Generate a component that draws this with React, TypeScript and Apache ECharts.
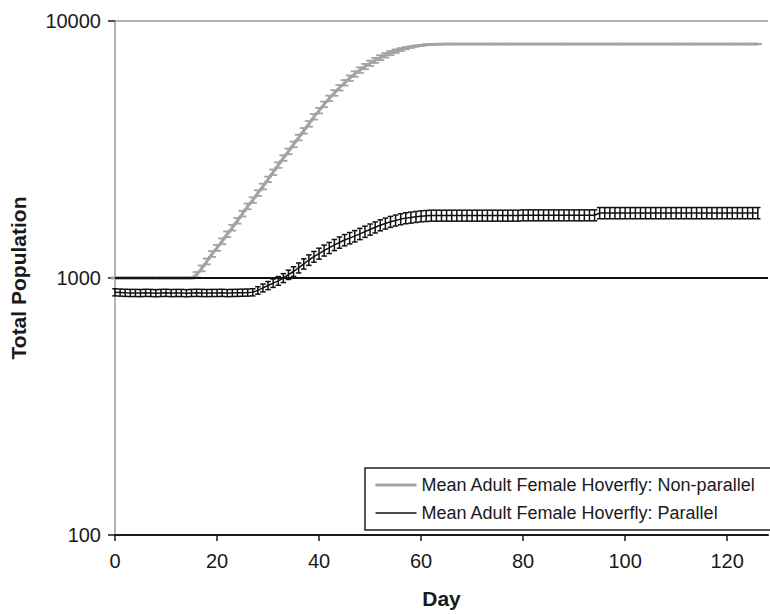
import React, { useEffect, useRef } from "react";
import * as echarts from "echarts";

// Days 0..126
const days: number[] = Array.from({ length: 127 }, (_, i) => i);

// Mean Adult Female Hoverfly: Non-parallel (grey)
const nonParallel: number[] = [
  1000, 1000, 1000, 1000, 1000, 1000, 1000, 1000, 1000, 1000,
  1000, 1000, 1000, 1000, 1000, 1000, 1030, 1090, 1160, 1240,
  1310, 1390, 1480, 1570, 1670, 1780, 1900, 2010, 2140, 2270,
  2420, 2580, 2750, 2930, 3110, 3310, 3520, 3740, 3980, 4240,
  4480, 4740, 5000, 5250, 5500, 5750, 5990, 6220, 6440, 6650,
  6850, 7030, 7200, 7360, 7500, 7630, 7740, 7840, 7920, 7990,
  8040, 8080, 8100, 8120, 8120, 8130, 8130, 8130, 8130, 8130,
  8130, 8130, 8130, 8130, 8130, 8130, 8130, 8130, 8130, 8130,
  8130, 8130, 8130, 8130, 8130, 8130, 8130, 8130, 8130, 8130,
  8130, 8130, 8130, 8130, 8130, 8130, 8130, 8130, 8130, 8130,
  8130, 8130, 8130, 8130, 8130, 8130, 8130, 8130, 8130, 8130,
  8130, 8130, 8130, 8130, 8130, 8130, 8130, 8130, 8130, 8130,
  8130, 8130, 8130, 8130, 8130, 8130, 8130,
];
const nonParallelErr: number[] = [
  5, 5, 5, 5, 5, 5, 5, 5, 5, 5,
  5, 5, 5, 5, 5, 5, 25, 28, 30, 32,
  34, 36, 38, 40, 42, 45, 48, 50, 54, 57,
  60, 64, 68, 73, 78, 83, 88, 94, 100, 106,
  112, 118, 124, 130, 136, 142, 148, 152, 156, 160,
  160, 160, 160, 150, 140, 120, 100, 80, 60, 40,
  30, 20, 15, 10, 8, 8, 8, 8, 8, 8,
  8, 8, 8, 8, 8, 8, 8, 8, 8, 8,
  8, 8, 8, 8, 8, 8, 8, 8, 8, 8,
  8, 8, 8, 8, 8, 8, 8, 8, 8, 8,
  8, 8, 8, 8, 8, 8, 8, 8, 8, 8,
  8, 8, 8, 8, 8, 8, 8, 8, 8, 8,
  8, 8, 8, 8, 8, 8, 8,
];

// Mean Adult Female Hoverfly: Parallel (black)
const parallel: number[] = [
  880, 878, 876, 875, 875, 874, 876, 875, 873, 875,
  876, 874, 875, 875, 873, 875, 876, 875, 874, 875,
  875, 876, 874, 875, 876, 877, 878, 880, 895, 915,
  935, 955, 975, 1000, 1030, 1060, 1095, 1135, 1175, 1210,
  1245, 1280, 1310, 1345, 1375, 1405, 1430, 1455, 1485, 1515,
  1545, 1575, 1605, 1630, 1655, 1675, 1695, 1710, 1720, 1730,
  1740, 1745, 1750, 1750, 1750, 1750, 1750, 1750, 1750, 1750,
  1750, 1750, 1750, 1750, 1750, 1750, 1750, 1750, 1750, 1750,
  1755, 1755, 1755, 1755, 1755, 1755, 1755, 1755, 1755, 1755,
  1755, 1755, 1755, 1755, 1755, 1790, 1790, 1790, 1790, 1790,
  1790, 1790, 1790, 1790, 1790, 1790, 1790, 1790, 1790, 1790,
  1790, 1790, 1790, 1790, 1790, 1790, 1790, 1790, 1790, 1790,
  1790, 1790, 1790, 1790, 1790, 1790, 1790,
];
const parallelErr: number[] = [
  28, 28, 28, 28, 28, 28, 28, 28, 28, 28,
  28, 28, 28, 28, 28, 28, 28, 28, 28, 28,
  28, 28, 28, 28, 28, 28, 28, 28, 30, 32,
  34, 36, 38, 40, 43, 46, 49, 52, 55, 58,
  61, 63, 65, 67, 69, 71, 73, 74, 75, 76,
  77, 78, 79, 80, 81, 82, 83, 84, 85, 85,
  86, 86, 86, 86, 86, 86, 86, 86, 86, 86,
  86, 86, 86, 86, 86, 86, 86, 86, 86, 86,
  86, 86, 86, 86, 86, 86, 86, 86, 86, 86,
  86, 86, 86, 86, 86, 90, 90, 90, 90, 90,
  90, 90, 90, 90, 90, 90, 90, 90, 90, 90,
  90, 90, 90, 90, 90, 90, 90, 90, 90, 90,
  90, 90, 90, 90, 90, 90, 90,
];

const yTicks: number[] = [100, 1000, 10000];
const xTicks: number[] = [0, 20, 40, 60, 80, 100, 120];

const NAME_NP = "Mean Adult Female Hoverfly: Non-parallel";
const NAME_P = "Mean Adult Female Hoverfly: Parallel";
const GREY = "#a3a3a3";
const BLACK = "#111111";
const FONT = "'Liberation Sans', Arial, Helvetica, sans-serif";

function errorSeries(name: string, vals: number[], errs: number[], color: string, capW: number, lw: number) {
  return {
    name,
    type: "custom",
    data: days.map((d, i) => [d, vals[i] - errs[i], vals[i] + errs[i]]),
    encode: { x: 0, y: [1, 2] },
    silent: true,
    renderItem: (params: any, api: any) => {
      const x = api.value(0);
      const lo = api.coord([x, api.value(1)]);
      const hi = api.coord([x, api.value(2)]);
      const hw = capW / 2;
      const style = { stroke: color, lineWidth: lw, fill: null };
      return {
        type: "group",
        children: [
          { type: "line", shape: { x1: lo[0], y1: lo[1], x2: hi[0], y2: hi[1] }, style },
          { type: "line", shape: { x1: lo[0] - hw, y1: lo[1], x2: lo[0] + hw, y2: lo[1] }, style },
          { type: "line", shape: { x1: hi[0] - hw, y1: hi[1], x2: hi[0] + hw, y2: hi[1] }, style },
        ],
      };
    },
  };
}

export default function App() {
  const ref = useRef<HTMLDivElement>(null);
  useEffect(() => {
    if (!ref.current) return;
    const chart = echarts.init(ref.current, null, { renderer: "svg" });
    chart.setOption({
      animation: false,
      backgroundColor: "#ffffff",
      textStyle: { fontFamily: FONT },
      grid: { left: 115, right: 2, top: 21, bottom: 76, containLabel: false },
      graphic: [
        {
          type: "rect",
          z: 3,
          silent: true,
          shape: { x: 365, y: 468, width: 440, height: 62 },
          style: { fill: "#ffffff", stroke: "#222222", lineWidth: 1.5 },
        },
      ],
      legend: {
        orient: "vertical",
        left: 365,
        top: 468,
        data: [
          { name: NAME_NP, lineStyle: { width: 3, color: GREY } },
          { name: NAME_P, lineStyle: { width: 1.5, color: BLACK } },
        ],
        itemWidth: 41,
        itemHeight: 14,
        itemGap: 8,
        padding: [7, 10, 7, 9],
        borderWidth: 0,
        z: 4,
        itemStyle: { opacity: 0 },
        textStyle: { fontSize: 18, color: "#1a1a1a", fontFamily: FONT, lineHeight: 20 },
      },
      xAxis: {
        type: "value",
        min: 0,
        max: 128,
        interval: 20,
        name: "Day",
        nameLocation: "middle",
        nameGap: 53,
        nameTextStyle: { fontSize: 21, fontWeight: "bold", color: "#1a1a1a", fontFamily: FONT },
        axisLine: { show: true, lineStyle: { color: "#1a1a1a", width: 2 } },
        axisTick: { show: true, inside: false, length: 6, lineStyle: { color: "#1a1a1a", width: 1.5 } },
        axisLabel: {
          fontSize: 20,
          color: "#1a1a1a",
          margin: 16,
          showMaxLabel: false,
          formatter: (v: number) => (xTicks.includes(v) ? String(v) : ""),
        },
        splitLine: { show: false },
      },
      yAxis: {
        type: "log",
        logBase: 10,
        min: yTicks[0],
        max: yTicks[yTicks.length - 1],
        name: "Total Population",
        nameLocation: "middle",
        nameGap: 86,
        nameTextStyle: { fontSize: 21, fontWeight: "bold", color: "#1a1a1a", fontFamily: FONT },
        axisLine: { show: true, lineStyle: { color: "#9a9a9a", width: 1.5 } },
        axisTick: { show: true, inside: false, length: 7, lineStyle: { color: "#1a1a1a", width: 1.5 } },
        axisLabel: { fontSize: 20, color: "#1a1a1a", margin: 14, formatter: (v: number) => String(Math.round(v)) },
        splitLine: { show: false },
      },
      series: [
        errorSeries("npErr", nonParallel, nonParallelErr, GREY, 8, 1.8),
        {
          name: NAME_NP,
          type: "line",
          data: days.map((d, i) => [d, nonParallel[i]]),
          symbol: "none",
          lineStyle: { color: GREY, width: 3 },
          itemStyle: { color: GREY },
          z: 3,
        },
        errorSeries("pErr", parallel, parallelErr, BLACK, 5.5, 1.5),
        {
          name: NAME_P,
          type: "line",
          data: days.map((d, i) => [d, parallel[i]]),
          symbol: "none",
          lineStyle: { color: BLACK, width: 1.5 },
          itemStyle: { color: BLACK },
          z: 4,
          markLine: {
            silent: true,
            symbol: "none",
            label: { show: false },
            data: [
              { yAxis: yTicks[1], lineStyle: { color: BLACK, width: 2, type: "solid" } },
              { yAxis: yTicks[2], lineStyle: { color: "#9a9a9a", width: 1.5, type: "solid" } },
            ],
          },
        },
      ],
    });
    return () => chart.dispose();
  }, []);
  return (
    <div
      ref={ref}
      style={{ position: "fixed", left: 0, top: 0, width: 770, height: 614, background: "#fff" }}
    />
  );
}
